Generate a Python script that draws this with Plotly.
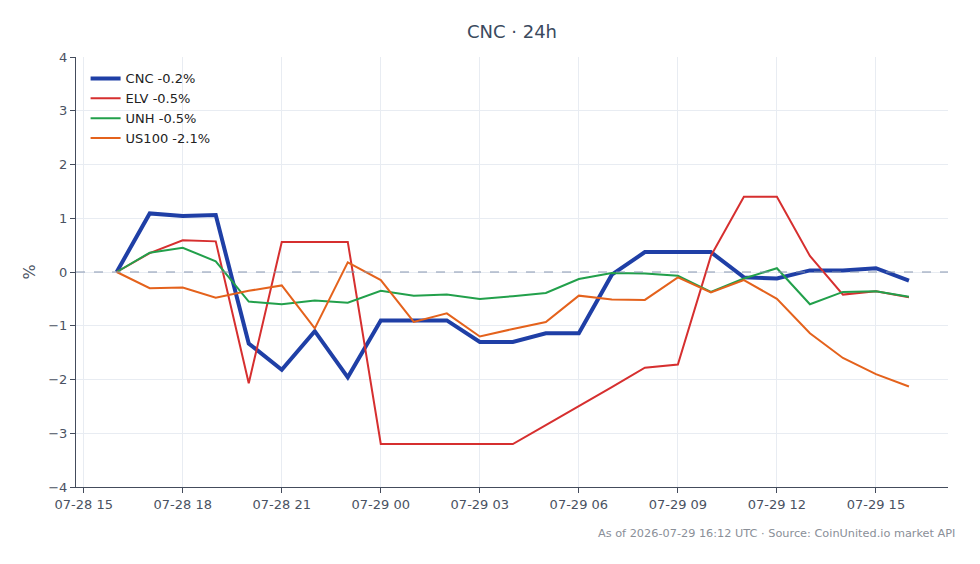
import plotly.graph_objects as go
import pandas as pd

times = pd.date_range("2026-07-28 16:00", "2026-07-29 16:00", freq="1h")

cnc = [0, 1.09, 1.04, 1.06, -1.33, -1.82, -1.10, -1.96, -0.90, -0.90, -0.90, -1.30, -1.30,
       -1.14, -1.14, -0.05, 0.37, 0.37, 0.37, -0.10, -0.12, 0.03, 0.03, 0.07, -0.16]
elv = [0, 0.35, 0.59, 0.57, -2.07, 0.56, 0.56, 0.56, -3.20, -3.20, -3.20, -3.20, -3.20,
       -2.85, -2.50, -2.14, -1.78, -1.72, 0.30, 1.40, 1.40, 0.30, -0.42, -0.36, -0.47]
unh = [0, 0.36, 0.45, 0.20, -0.55, -0.60, -0.53, -0.57, -0.35, -0.44, -0.42, -0.50, -0.45,
       -0.39, -0.13, -0.02, -0.03, -0.07, -0.37, -0.12, 0.07, -0.60, -0.37, -0.36, -0.46]
us100 = [0, -0.30, -0.29, -0.48, -0.35, -0.25, -1.05, 0.18, -0.15, -0.93, -0.77, -1.20, -1.06,
         -0.93, -0.44, -0.51, -0.52, -0.10, -0.38, -0.15, -0.50, -1.14, -1.60, -1.90, -2.13]

names = ["CNC -0.2%", "ELV -0.5%", "UNH -0.5%", "US100 -2.1%"]
colors = ["#1f3fa6", "#d62f2f", "#22a04b", "#e4621c"]
widths = [4, 2, 2, 2]
series = [cnc, elv, unh, us100]

fig = go.Figure()
for n, c, w, s in zip(names, colors, widths, series):
    fig.add_trace(go.Scatter(x=times, y=s, mode="lines", name=n,
                             line=dict(color=c, width=w)))

fig.add_hline(y=0, line=dict(color="#8796b0", width=1, dash="dash"))

fig.update_layout(
    width=980, height=564,
    paper_bgcolor="white", plot_bgcolor="white",
    margin=dict(l=76, r=32, t=57, b=77),
    font=dict(family="DejaVu Sans, sans-serif", size=13, color="#4a5262"),
    title=dict(text="CNC · 24h", x=0.5, xref="paper", xanchor="center", y=0.955,
               font=dict(size=18, color="#3b4a5e")),
    legend=dict(x=0.011, y=0.985, xanchor="left", yanchor="top",
                bgcolor="rgba(255,255,255,0)", font=dict(size=13, color="#222")),
    showlegend=True,
)
fig.update_xaxes(
    range=["2026-07-28 14:46", "2026-07-29 17:11"],
    tickformat="%m-%d %H", dtick=3 * 3600 * 1000, tick0="2026-07-28 15:00",
    showgrid=True, gridcolor="#e8ecf2", showline=True, linecolor="#444c5c", linewidth=1,
    ticks="outside", ticklen=5, tickcolor="#444c5c", zeroline=False,
)
fig.update_yaxes(
    range=[-4, 4], dtick=1, title=dict(text="%", standoff=8),
    showgrid=True, gridcolor="#e8ecf2", showline=True, linecolor="#444c5c", linewidth=1,
    ticks="outside", ticklen=5, tickcolor="#444c5c", zeroline=False,
)
fig.add_annotation(text="As of 2026-07-29 16:12 UTC · Source: CoinUnited.io market API",
                   xref="paper", yref="paper", x=1.01, y=-0.088, xanchor="right", yanchor="top",
                   showarrow=False, font=dict(size=11.3, color="#8a8f98"))

fig.write_html("out.html")
